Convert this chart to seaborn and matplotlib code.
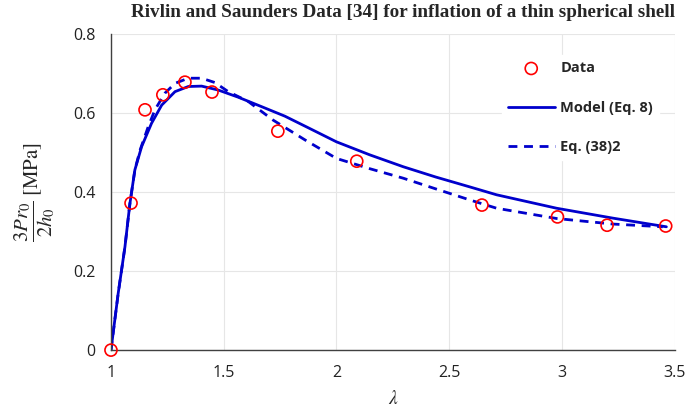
import numpy as np
import pandas as pd
import matplotlib
matplotlib.use("Agg")
import matplotlib.pyplot as plt
import seaborn as sns

# Data
data_lambda = [1.0, 1.089, 1.151, 1.23, 1.328, 1.448, 1.74, 2.09, 2.645, 2.98, 3.20, 3.46]
data_stress = [0.0, 0.372, 0.608, 0.646, 0.678, 0.653, 0.554, 0.478, 0.367, 0.337, 0.316, 0.314]

model_lambda = [1.0, 1.032, 1.062, 1.084, 1.106, 1.136, 1.18, 1.225, 1.284, 1.343, 1.402,
                1.476, 1.564, 1.668, 1.771, 1.87, 2.0, 2.148, 2.296, 2.44, 2.591, 2.71,
                2.976, 3.225, 3.463]
model_stress = [0.0, 0.1435, 0.2615, 0.371, 0.456, 0.515, 0.574, 0.620, 0.654, 0.667, 0.668,
                0.658, 0.640, 0.616, 0.592, 0.564, 0.527, 0.494, 0.464, 0.438, 0.413, 0.393,
                0.359, 0.334, 0.312]

eq38_lambda = [1.0, 1.032, 1.062, 1.084, 1.106, 1.129, 1.165, 1.195, 1.239, 1.284, 1.343,
               1.402, 1.461, 1.52, 1.609, 1.719, 1.86, 2.0, 2.148, 2.296, 2.44, 2.591, 2.71,
               2.976, 3.225, 3.447]
eq38_stress = [0.0, 0.1435, 0.2615, 0.371, 0.456, 0.506, 0.565, 0.608, 0.650, 0.675, 0.688,
               0.688, 0.677, 0.654, 0.629, 0.582, 0.532, 0.485, 0.459, 0.435, 0.408, 0.380,
               0.359, 0.333, 0.319, 0.312]

x_ticks = [1, 1.5, 2, 2.5, 3, 3.5]
x_ticklabels = ["1", "1.5", "2", "2.5", "3", "3.5"]
y_ticks = [0, 0.2, 0.4, 0.6, 0.8]
y_ticklabels = ["0", "0.2", "0.4", "0.6", "0.8"]

title = "Rivlin and Saunders Data [34] for inflation of a thin spherical shell"

sns.set_style("white")
plt.rcParams["font.family"] = ["Open Sans", "DejaVu Sans"]
plt.rcParams["mathtext.fontset"] = "stix"

fig = plt.figure(figsize=(6.85, 4.09), dpi=100)
ax = fig.add_axes([0.162, 0.144, 0.823, 0.773])

df_model = pd.DataFrame({"x": model_lambda, "y": model_stress})
df_eq = pd.DataFrame({"x": eq38_lambda, "y": eq38_stress})

blue = "#0000CC"
sns.lineplot(data=df_model, x="x", y="y", ax=ax, sort=False, color=blue, lw=2.0,
             label="Model (Eq. 8)", zorder=2)
sns.lineplot(data=df_eq, x="x", y="y", ax=ax, sort=False, color=blue, lw=2.0,
             label="Eq. (38)2", zorder=2)
ax.lines[0].set_solid_joinstyle("round")
ax.lines[1].set_dashes((3.2, 2.4))
ax.scatter(data_lambda, data_stress, s=75, facecolors="none", edgecolors="#FF0000",
           linewidths=1.2, label="Data", zorder=3, clip_on=False)

ax.set_xlim(1, 3.5)
ax.set_ylim(0, 0.8)
ax.set_xticks(x_ticks)
ax.set_xticklabels(x_ticklabels)
ax.set_yticks(y_ticks)
ax.set_yticklabels(y_ticklabels)
ax.grid(True, color="#E6E6E6", lw=0.8)
ax.set_axisbelow(True)
for s in ["top", "right"]:
    ax.spines[s].set_visible(False)
for s in ["left", "bottom"]:
    ax.spines[s].set_color("#404040")
    ax.spines[s].set_linewidth(1.0)
ax.tick_params(axis="both", direction="out", length=5, width=1, color="#404040",
               labelsize=11.5, labelcolor="#222222", pad=6)

ax.set_xlabel(r"$\lambda$", fontsize=14, labelpad=6)
ax.set_ylabel(r"$\dfrac{3Pr_0}{2h_0}\;[\mathrm{MPa}]$", fontsize=15, labelpad=12)
ax.set_title(title, fontsize=13.8, fontweight="bold", family=["Liberation Serif"], pad=12,
             loc="right", x=1.0)

handles, labels = ax.get_legend_handles_labels()
order = [labels.index("Data"), labels.index("Model (Eq. 8)"), labels.index("Eq. (38)2")]
leg = ax.legend([handles[i] for i in order], [labels[i] for i in order],
                loc="upper right", bbox_to_anchor=(0.985, 0.955), frameon=True, framealpha=1,
                edgecolor="white", facecolor="white",
                prop={"weight": "bold", "size": 10.5}, labelspacing=1.75, handlelength=3.2,
                handletextpad=0.4)

fig.savefig("out.png", dpi=100)
